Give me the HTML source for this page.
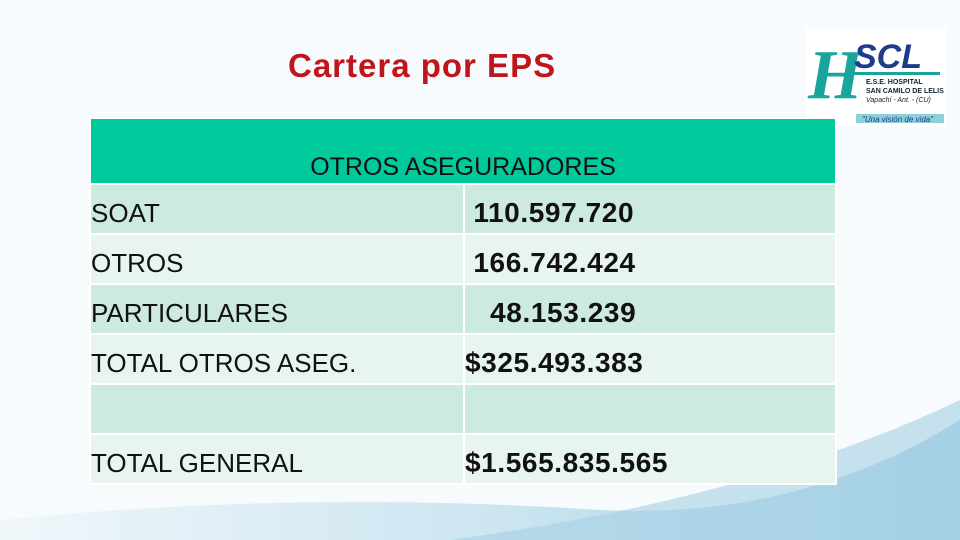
<!DOCTYPE html>
<html><head><meta charset="utf-8"><style>
body{margin:0;width:960px;height:540px;overflow:hidden;background:#f7fbfd;font-family:"Liberation Sans",sans-serif;position:relative}
.bg{position:absolute;left:0;top:0;width:960px;height:540px}
h1{position:absolute;left:288px;top:47px;margin:0;font-size:33px;letter-spacing:1px;color:#c0161b;font-weight:bold}
table{position:absolute;left:89px;top:117px;border-collapse:collapse;width:748px;font-family:"Liberation Sans",sans-serif}
td{padding:8px 0 0 0;box-sizing:border-box;font-size:26px;color:#111;border:2px solid #fff;vertical-align:middle}
tr td{height:50px}
.hd td{background:#00c99b;height:66px;vertical-align:bottom;text-align:center;padding:0;font-size:25px;line-height:32px}
.a td{background:#cdeade}
.b td{background:#e8f5ef}
td.l{width:374px;padding-left:0}
td.v{font-weight:bold;font-size:28px;letter-spacing:0.6px}
.logo{position:absolute;left:806px;top:28px;width:140px;height:98px;background:#fff}
</style></head><body>
<svg class="bg" viewBox="0 0 960 540">
<defs><linearGradient id="g" x1="0" y1="0" x2="1" y2="0"><stop offset="0" stop-color="#eef6fa"/><stop offset="0.5" stop-color="#c3e0ee"/><stop offset="1" stop-color="#8fc6e0"/></linearGradient></defs>
<path d="M0 540 L0 520 Q300 490 600 510 Q800 520 960 420 L960 540 Z" fill="url(#g)" opacity="0.8"/>
<path d="M450 540 Q750 500 960 400 L960 540 Z" fill="#a5d0e5" opacity="0.6"/>
</svg>
<h1>Cartera por EPS</h1>
<div class="logo">
<svg width="140" height="98" viewBox="0 0 140 98">
<text x="2" y="70" font-family="Liberation Serif" font-style="italic" font-weight="bold" font-size="70" fill="#1aa59c">H</text>
<text x="48" y="40" font-family="Liberation Sans" font-style="italic" font-weight="bold" font-size="34" fill="#1d3c8c">SCL</text>
<rect x="48" y="44" width="86" height="3" fill="#1aa59c"/>
<text x="60" y="56" font-size="7" font-weight="bold" fill="#123">E.S.E. HOSPITAL</text>
<text x="60" y="65" font-size="7" font-weight="bold" fill="#123">SAN CAMILO DE LELIS</text>
<text x="60" y="74" font-size="7" font-style="italic" fill="#123">Vapachí - Ant. - (CU)</text>
<rect x="50" y="86" width="88" height="9" fill="#8ed0d8"/>
<text x="56" y="94" font-size="8" font-style="italic" fill="#1d3c8c">"Una visión de vida"</text>
</svg></div>
<table>
<tr class="hd"><td colspan="2">OTROS ASEGURADORES</td></tr>
<tr class="a"><td class="l">SOAT</td><td class="v">&nbsp;110.597.720</td></tr>
<tr class="b"><td class="l">OTROS</td><td class="v">&nbsp;166.742.424</td></tr>
<tr class="a"><td class="l">PARTICULARES</td><td class="v">&nbsp;&nbsp;&nbsp;48.153.239</td></tr>
<tr class="b"><td class="l">TOTAL OTROS ASEG.</td><td class="v">$325.493.383</td></tr>
<tr class="a"><td class="l"></td><td></td></tr>
<tr class="b"><td class="l">TOTAL GENERAL</td><td class="v">$1.565.835.565</td></tr>
</table>
</body></html>
